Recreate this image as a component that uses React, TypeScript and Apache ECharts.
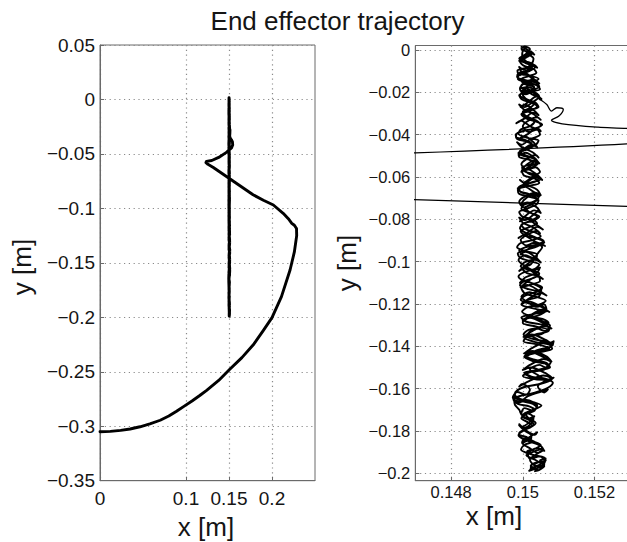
import React, { useEffect, useRef } from 'react';
import * as echarts from 'echarts';

const titleText = 'End effector trajectory';
const xAxisName = 'x [m]';
const yAxisName = 'y [m]';

const leftXTicks = [0, 0.1, 0.15, 0.2];
const rightXTicks = [0.148, 0.15, 0.152];
const rightYTicks = [0, -0.02, -0.04, -0.06, -0.08, -0.1, -0.12, -0.14, -0.16, -0.18, -0.2];

// approach from the start pose to the vertical segment
const approachPath: [number, number][] = [
  [0, -0.305], [0.012, -0.3047], [0.024, -0.3038], [0.035, -0.3025], [0.0465, -0.3005], [0.058, -0.2978],
  [0.07, -0.2945], [0.08, -0.2906], [0.089, -0.2862], [0.098, -0.2815], [0.107, -0.2768], [0.116, -0.2718],
  [0.124, -0.267], [0.138, -0.258], [0.1506, -0.248], [0.165, -0.237], [0.178, -0.2255], [0.19, -0.212],
  [0.2, -0.2003], [0.211, -0.181], [0.221, -0.1566], [0.226, -0.14], [0.2287, -0.125], [0.2285, -0.1185],
  [0.226, -0.1155], [0.223, -0.1137], [0.219, -0.1095], [0.213, -0.1045], [0.2016, -0.0969], [0.19, -0.0925],
  [0.178, -0.0875], [0.1318, -0.0624], [0.1255, -0.0595], [0.1232, -0.058], [0.1238, -0.0568], [0.13, -0.056],
  [0.138, -0.0532], [0.147, -0.0486], [0.1529, -0.0444], [0.1543, -0.0418], [0.154, -0.039], [0.1529, -0.0371],
  [0.1521, -0.0365], [0.1511, -0.0349], [0.1508, -0.0332], [0.151, -0.0313], [0.15113, -0.0281], [0.15095, -0.0273],
  [0.1508, -0.0289], [0.15067, -0.0258], [0.15048, -0.0234],
];

const passUp1: [number, number][] = [
  [0.15041, -0.0221], [0.15022, -0.0205], [0.15035, -0.0188], [0.15012, -0.0176], [0.14994, -0.0181], [0.14998, -0.0163],
  [0.15028, -0.015], [0.15044, -0.0137], [0.15019, -0.0121], [0.14988, -0.0112], [0.14985, -0.0098], [0.1501, -0.0085],
  [0.15031, -0.0072], [0.15016, -0.0058], [0.14995, -0.0049], [0.15003, -0.0034], [0.15022, -0.0022], [0.1501, -0.0008],
  [0.14996, 0.0004], [0.15005, 0.0016], [0.15014, 0.0012],
];

const passDown1: [number, number][] = [
  [0.1502, 0.0005], [0.15008, -0.002], [0.1499, -0.0041], [0.15006, -0.006], [0.15027, -0.0078], [0.15012, -0.0097],
  [0.14988, -0.011], [0.14984, -0.0128], [0.15005, -0.0142], [0.15036, -0.0155], [0.15046, -0.0174], [0.15022, -0.019],
  [0.15001, -0.0198], [0.14992, -0.0215], [0.15014, -0.0237], [0.1503, -0.0258], [0.15018, -0.0276], [0.15, -0.0293],
  [0.15012, -0.0315], [0.15038, -0.0334], [0.1505, -0.0356], [0.15033, -0.0372], [0.15008, -0.038], [0.14985, -0.0392],
  [0.14981, -0.041], [0.15002, -0.0423], [0.15024, -0.0441], [0.15016, -0.0462], [0.14992, -0.0478], [0.14996, -0.0497],
  [0.15028, -0.0511], [0.1504, -0.053], [0.15021, -0.0548], [0.15006, -0.0567], [0.15018, -0.0586], [0.15044, -0.0603],
  [0.15036, -0.0621], [0.15003, -0.0636], [0.14988, -0.0651], [0.14995, -0.0672], [0.15026, -0.0688], [0.15041, -0.0705],
  [0.15025, -0.0727], [0.15008, -0.0745], [0.1502, -0.0768], [0.15046, -0.0787], [0.1503, -0.0806], [0.15002, -0.082],
  [0.14992, -0.0842], [0.1501, -0.0866], [0.15035, -0.0885], [0.15058, -0.0901], [0.15042, -0.0918], [0.15012, -0.093],
  [0.1499, -0.0948], [0.15004, -0.0972], [0.1503, -0.0991], [0.15022, -0.1013], [0.14998, -0.1031], [0.15012, -0.1054],
  [0.15044, -0.107], [0.15048, -0.1092], [0.1502, -0.111], [0.14996, -0.1126], [0.15006, -0.115], [0.1504, -0.1168],
  [0.15064, -0.1185], [0.15045, -0.1203], [0.15014, -0.1215], [0.14998, -0.1236], [0.1502, -0.1258], [0.15055, -0.1271],
  [0.15072, -0.129], [0.1505, -0.131], [0.15016, -0.1322], [0.15002, -0.1344], [0.15028, -0.1365], [0.15066, -0.1379],
  [0.1508, -0.1398], [0.15058, -0.1417], [0.1502, -0.1428], [0.15004, -0.145], [0.15032, -0.1472], [0.1507, -0.1488],
  [0.1506, -0.151], [0.15024, -0.1521], [0.15, -0.154], [0.15036, -0.1556], [0.15078, -0.156], [0.15048, -0.1578],
  [0.1501, -0.159], [0.14985, -0.1607], [0.14978, -0.1628], [0.14994, -0.165], [0.1503, -0.1664], [0.15052, -0.168],
  [0.1503, -0.17], [0.15008, -0.1718], [0.15016, -0.174], [0.15036, -0.1762], [0.15022, -0.1782], [0.14998, -0.18],
  [0.14988, -0.1822], [0.1501, -0.1845], [0.1504, -0.1862], [0.15054, -0.188], [0.1503, -0.1898], [0.1501, -0.1915],
  [0.15034, -0.1936], [0.1505, -0.1955], [0.1503, -0.1972], [0.15018, -0.1988],
];

const passUp2: [number, number][] = [
  [0.15042, -0.1975], [0.1506, -0.1958], [0.15048, -0.194], [0.15064, -0.193], [0.1504, -0.1918], [0.15012, -0.1905],
  [0.14995, -0.1888], [0.15004, -0.1866], [0.15028, -0.185], [0.15014, -0.1832], [0.1499, -0.1815], [0.15006, -0.1795],
  [0.15026, -0.1776], [0.15012, -0.1757], [0.14996, -0.174], [0.1501, -0.172], [0.15034, -0.1702], [0.15018, -0.1684],
  [0.14986, -0.1672], [0.14974, -0.1652], [0.1499, -0.1636], [0.1502, -0.1625], [0.15046, -0.1612], [0.1507, -0.1596],
  [0.15084, -0.1572], [0.1506, -0.1552], [0.1503, -0.1546], [0.1501, -0.153], [0.15044, -0.1512], [0.15076, -0.15],
  [0.15066, -0.1478], [0.1503, -0.1462], [0.15008, -0.1446], [0.1504, -0.143], [0.15082, -0.1412], [0.15074, -0.1392],
  [0.15036, -0.138], [0.15006, -0.1362], [0.15034, -0.1345], [0.1507, -0.133], [0.15076, -0.131], [0.15046, -0.1295],
  [0.1501, -0.1284], [0.14996, -0.1264], [0.1503, -0.1248], [0.15068, -0.1232], [0.15054, -0.1212], [0.15018, -0.1198],
  [0.14994, -0.118], [0.15008, -0.116], [0.1504, -0.1142], [0.15054, -0.1122], [0.1503, -0.1104], [0.15002, -0.109],
  [0.14988, -0.107], [0.15004, -0.105], [0.15034, -0.1034], [0.15046, -0.1014], [0.1502, -0.0998], [0.14992, -0.0982],
  [0.14986, -0.0962], [0.15012, -0.0944], [0.1504, -0.0928], [0.1506, -0.0908], [0.15038, -0.089], [0.15006, -0.0876],
  [0.14994, -0.0856], [0.15016, -0.0838], [0.1504, -0.082], [0.15026, -0.08], [0.14998, -0.0786], [0.1499, -0.0766],
  [0.15014, -0.0748], [0.15038, -0.073], [0.15044, -0.071], [0.15018, -0.0694], [0.1499, -0.068], [0.14986, -0.066],
  [0.15012, -0.0644], [0.15046, -0.0628], [0.15034, -0.0608], [0.15004, -0.0594], [0.14998, -0.0574], [0.15024, -0.0556],
  [0.15042, -0.0538], [0.1502, -0.052], [0.1499, -0.0506], [0.14988, -0.0486], [0.15014, -0.047], [0.1503, -0.0452],
  [0.15012, -0.0434], [0.14984, -0.042], [0.1498, -0.04], [0.15, -0.0384], [0.15036, -0.037], [0.15054, -0.0352],
  [0.15032, -0.0336], [0.15008, -0.0322], [0.14998, -0.0302], [0.15024, -0.0286], [0.1504, -0.0266], [0.15022, -0.0248],
  [0.14998, -0.0234], [0.1499, -0.0214], [0.15016, -0.0198], [0.15048, -0.0186], [0.15038, -0.0166], [0.15006, -0.0152],
  [0.14986, -0.0136], [0.1499, -0.0116], [0.15018, -0.01], [0.15034, -0.0082], [0.15014, -0.0064], [0.14994, -0.005],
  [0.15004, -0.003], [0.1502, -0.0012], [0.15008, 0.0006], [0.14996, 0.0014],
];

const passDown2: [number, number][] = [
  [0.15012, 0.0002], [0.15026, -0.0016], [0.1501, -0.0036], [0.14992, -0.0054], [0.15002, -0.0074], [0.1503, -0.009],
  [0.15038, -0.0108], [0.15016, -0.0124], [0.14994, -0.014], [0.15004, -0.016], [0.15032, -0.0176], [0.15026, -0.0196],
  [0.15, -0.0212], [0.1501, -0.0232], [0.15036, -0.025], [0.15044, -0.027], [0.1502, -0.0284], [0.14996, -0.0304],
  [0.1501, -0.0324], [0.15032, -0.034], [0.1502, -0.036], [0.14994, -0.0376], [0.14988, -0.0396], [0.1501, -0.0414],
  [0.15044, -0.0428], [0.15036, -0.0448], [0.15006, -0.0464], [0.14994, -0.0484], [0.15014, -0.0502], [0.15034, -0.052],
  [0.15022, -0.054], [0.14998, -0.0556], [0.15008, -0.0576], [0.1504, -0.059], [0.1505, -0.061], [0.15024, -0.0626],
  [0.14996, -0.0644], [0.1499, -0.0664], [0.15016, -0.068], [0.15044, -0.0696], [0.1503, -0.0716], [0.15002, -0.0732],
  [0.14996, -0.0752], [0.15022, -0.077], [0.1504, -0.0788], [0.1502, -0.0808], [0.14996, -0.0826], [0.15006, -0.0846],
  [0.15034, -0.0862], [0.1505, -0.088], [0.15028, -0.0898], [0.14994, -0.0912], [0.14984, -0.0932], [0.15006, -0.095],
  [0.1504, -0.0966], [0.15036, -0.0986], [0.15006, -0.1002], [0.14994, -0.1022], [0.15018, -0.104], [0.15046, -0.1056],
  [0.15032, -0.1076], [0.15004, -0.1092], [0.14992, -0.1112], [0.15016, -0.113], [0.1505, -0.1146], [0.15044, -0.1166],
  [0.15012, -0.1182], [0.14996, -0.1202], [0.15026, -0.122], [0.15062, -0.1236], [0.1504, -0.1256], [0.15004, -0.127],
  [0.15, -0.129], [0.15036, -0.1306], [0.1507, -0.1322], [0.15052, -0.1342], [0.15012, -0.1356], [0.15002, -0.1376],
  [0.15044, -0.1392], [0.15074, -0.141], [0.15046, -0.1428], [0.15008, -0.144], [0.15014, -0.146], [0.15056, -0.1476],
  [0.15072, -0.1496], [0.1504, -0.1512], [0.15004, -0.1526], [0.15024, -0.1546], [0.15066, -0.156], [0.15042, -0.158],
  [0.15, -0.1594], [0.14982, -0.1614], [0.14976, -0.1636], [0.14996, -0.1658], [0.15028, -0.1672], [0.1504, -0.1692],
  [0.15014, -0.171], [0.14998, -0.173], [0.1502, -0.175], [0.1503, -0.177], [0.1501, -0.179], [0.1499, -0.181],
  [0.14996, -0.1832], [0.1503, -0.185], [0.1505, -0.1866], [0.15034, -0.1884], [0.15012, -0.1896], [0.15026, -0.1912],
  [0.1506, -0.1926], [0.15064, -0.194], [0.15036, -0.195], [0.15022, -0.1966], [0.1504, -0.198], [0.15034, -0.199],
];

const passUp3: [number, number][] = [
  [0.15046, -0.1984], [0.1506, -0.1966], [0.15044, -0.1948], [0.1503, -0.1958], [0.1502, -0.1936], [0.15036, -0.1912],
  [0.15056, -0.1892], [0.15042, -0.1904], [0.15018, -0.188], [0.14998, -0.1856], [0.15006, -0.1834], [0.1502, -0.1846],
  [0.15024, -0.1822], [0.15004, -0.1798], [0.1499, -0.1774], [0.15004, -0.1786], [0.15026, -0.176], [0.1503, -0.1736],
  [0.15008, -0.1714], [0.14998, -0.1726], [0.1499, -0.17], [0.14978, -0.1676], [0.14976, -0.1652], [0.14992, -0.1664],
  [0.1501, -0.164], [0.1504, -0.162], [0.1507, -0.1604], [0.1506, -0.1618], [0.15042, -0.159], [0.1506, -0.1566],
  [0.15086, -0.1548], [0.15072, -0.1562], [0.1504, -0.1534], [0.1502, -0.151], [0.15046, -0.1488], [0.15064, -0.15],
  [0.15078, -0.1474], [0.15056, -0.145], [0.15024, -0.143], [0.15014, -0.1444], [0.1504, -0.1418], [0.1508, -0.14],
  [0.15086, -0.1376], [0.15068, -0.1388], [0.15036, -0.1362], [0.15016, -0.1338], [0.1504, -0.1316], [0.15062, -0.1328],
  [0.15076, -0.1302], [0.1505, -0.1278], [0.15018, -0.126], [0.15008, -0.1274], [0.1503, -0.1248], [0.15066, -0.1226],
  [0.1506, -0.1202], [0.1504, -0.1214], [0.15012, -0.119], [0.14996, -0.1166], [0.15018, -0.1144], [0.1504, -0.1156],
  [0.15052, -0.113], [0.1503, -0.1106], [0.15, -0.1088], [0.14992, -0.11], [0.15008, -0.1074], [0.1504, -0.1052],
  [0.15048, -0.1028], [0.1503, -0.104], [0.15002, -0.1016], [0.14988, -0.0992], [0.15006, -0.097], [0.1503, -0.0982],
  [0.15044, -0.0956], [0.15054, -0.0932], [0.1503, -0.0912], [0.1501, -0.0924], [0.14994, -0.0898], [0.15012, -0.0874],
  [0.1504, -0.0854], [0.15048, -0.0866], [0.1503, -0.084], [0.15, -0.0816], [0.1499, -0.0792], [0.15006, -0.0804],
  [0.1503, -0.0778], [0.15044, -0.0754], [0.15024, -0.0732], [0.15004, -0.0744], [0.1499, -0.0718], [0.15004, -0.0694],
  [0.15036, -0.0674], [0.1505, -0.0686], [0.1504, -0.066], [0.1501, -0.0636], [0.14992, -0.0614], [0.15002, -0.0626],
  [0.15026, -0.06], [0.15048, -0.0576], [0.15036, -0.0554], [0.15012, -0.0566], [0.14996, -0.054], [0.1501, -0.0516],
  [0.15036, -0.0496], [0.15044, -0.0508], [0.15026, -0.0482], [0.14996, -0.0458], [0.14984, -0.0436], [0.14996, -0.0448],
  [0.1502, -0.0422], [0.15048, -0.04], [0.1504, -0.0376], [0.15018, -0.0388], [0.15, -0.0362], [0.15012, -0.0338],
  [0.1504, -0.0318], [0.1505, -0.033], [0.1503, -0.0304], [0.15002, -0.028], [0.1499, -0.0258], [0.15004, -0.027],
  [0.1503, -0.0244], [0.15046, -0.022], [0.15028, -0.0198], [0.15008, -0.021], [0.14992, -0.0184], [0.15002, -0.016],
  [0.15028, -0.014], [0.15036, -0.0152], [0.1502, -0.0126], [0.14996, -0.0102], [0.1499, -0.008], [0.15002, -0.0092],
  [0.15024, -0.0066], [0.1503, -0.0042], [0.15012, -0.002], [0.14998, -0.0032], [0.15, -0.0004], [0.1501, 0.0012],
];

const passDown3: [number, number][] = [
  [0.15002, 0.0012], [0.15018, -0.0006], [0.15032, -0.0022], [0.15024, -0.001], [0.15006, -0.003], [0.1499, -0.0052],
  [0.14998, -0.004], [0.15016, -0.0064], [0.1504, -0.0084], [0.1503, -0.007], [0.1501, -0.0098], [0.14992, -0.012],
  [0.15004, -0.0108], [0.15028, -0.0134], [0.15046, -0.0158], [0.15034, -0.0146], [0.15012, -0.0172], [0.14996, -0.0196],
  [0.1501, -0.0184], [0.15036, -0.021], [0.15052, -0.0232], [0.15038, -0.022], [0.15014, -0.0248], [0.14994, -0.027],
  [0.15006, -0.0258], [0.1503, -0.0284], [0.15044, -0.0308], [0.15028, -0.0296], [0.15006, -0.0322], [0.14982, -0.0346],
  [0.14994, -0.0334], [0.1502, -0.036], [0.1505, -0.0384], [0.1504, -0.037], [0.15014, -0.0398], [0.1499, -0.042],
  [0.15004, -0.0408], [0.1503, -0.0436], [0.1504, -0.046], [0.15024, -0.0448], [0.15, -0.0474], [0.1499, -0.0498],
  [0.15008, -0.0486], [0.15034, -0.0512], [0.15046, -0.0536], [0.1503, -0.0524], [0.15004, -0.0552], [0.14996, -0.0576],
  [0.15014, -0.0564], [0.1504, -0.059], [0.15054, -0.0614], [0.15036, -0.0602], [0.15008, -0.063], [0.14986, -0.0654],
  [0.15, -0.0642], [0.15028, -0.0668], [0.15046, -0.0692], [0.1503, -0.068], [0.15004, -0.0708], [0.14994, -0.0732],
  [0.15012, -0.072], [0.1504, -0.0746], [0.1505, -0.077], [0.15032, -0.0758], [0.15006, -0.0786], [0.14992, -0.081],
  [0.1501, -0.0798], [0.15036, -0.0824], [0.15056, -0.0848], [0.1504, -0.0836], [0.15012, -0.0864], [0.14988, -0.0888],
  [0.15002, -0.0876], [0.1503, -0.0902], [0.15062, -0.0926], [0.15046, -0.0914], [0.15014, -0.0942], [0.14994, -0.0966],
  [0.15008, -0.0954], [0.15036, -0.098], [0.1505, -0.1004], [0.15034, -0.0992], [0.15006, -0.102], [0.1499, -0.1044],
  [0.15006, -0.1032], [0.15036, -0.1058], [0.15056, -0.1082], [0.1504, -0.107], [0.1501, -0.1098], [0.14994, -0.1122],
  [0.15012, -0.111], [0.15044, -0.1136], [0.15066, -0.116], [0.1505, -0.1148], [0.15016, -0.1176], [0.14998, -0.12],
  [0.15016, -0.1188], [0.15052, -0.1214], [0.15074, -0.1238], [0.15056, -0.1226], [0.1502, -0.1254], [0.15, -0.1278],
  [0.1502, -0.1266], [0.15058, -0.1292], [0.1508, -0.1316], [0.1506, -0.1304], [0.15022, -0.1332], [0.15002, -0.1356],
  [0.15024, -0.1344], [0.15064, -0.137], [0.15084, -0.1394], [0.15062, -0.1382], [0.15024, -0.141], [0.15004, -0.1434],
  [0.15026, -0.1422], [0.15066, -0.1448], [0.1508, -0.1472], [0.15058, -0.146], [0.1502, -0.1488], [0.15, -0.1512],
  [0.15022, -0.15], [0.15062, -0.1526], [0.15082, -0.155], [0.15058, -0.1538], [0.15016, -0.1566], [0.1499, -0.159],
  [0.14998, -0.1578], [0.1502, -0.1604], [0.1501, -0.1628], [0.14984, -0.1616], [0.14972, -0.1642], [0.14988, -0.1666],
  [0.1501, -0.1654], [0.1504, -0.168], [0.1503, -0.1704], [0.15004, -0.1692], [0.14996, -0.1718], [0.15016, -0.1742],
  [0.15032, -0.173], [0.1502, -0.1756], [0.14998, -0.178], [0.1499, -0.1768], [0.15006, -0.1794], [0.15034, -0.1818],
  [0.1504, -0.1806], [0.15016, -0.1832], [0.15, -0.1856], [0.1502, -0.1844], [0.1505, -0.187], [0.1506, -0.1894],
  [0.1504, -0.1882], [0.15014, -0.1908], [0.1502, -0.1932], [0.15048, -0.192], [0.15062, -0.1946], [0.15044, -0.197],
  [0.15026, -0.1958], [0.15022, -0.1978],
];

const passes: [number, number][] = [
  ...passUp1, ...passDown1, ...passUp2, ...passDown2, ...passUp3, ...passDown3,
];
const trajectory: [number, number][] = [...approachPath, ...passes];
const bandTrace: [number, number][] = [approachPath[approachPath.length - 1], ...passes];

const FONT = '"Liberation Sans", Arial, Helvetica, sans-serif';
const AXIS_COLOR = '#6a6a6a';
const GRID_COLOR = '#8a8a8a';
const TEXT_COLOR = '#151515';

const fmt = (v: number) => {
  const r = Math.round(v * 1e6) / 1e6;
  const s = String(Math.abs(r));
  return r < 0 ? '\u2212' + s : s;
};

const axisCommon = (fontSize: number, margin: number, custom?: number[]) => ({
  type: 'value',
  axisLine: { show: true, onZero: false, lineStyle: { color: AXIS_COLOR, width: 1 } },
  axisTick: { show: true, inside: true, length: 4, lineStyle: { color: AXIS_COLOR }, ...(custom ? { customValues: custom } : {}) },
  axisLabel: {
    fontSize, margin, color: TEXT_COLOR, fontFamily: FONT, formatter: fmt,
    ...(custom ? { customValues: custom } : {}),
  },
  splitLine: { show: true, lineStyle: { type: [1.2, 3.6], color: GRID_COLOR, width: 1.2 } },
});

export default function App() {
  const ref = useRef<HTMLDivElement>(null);
  useEffect(() => {
    if (!ref.current) return;
    const chart = echarts.init(ref.current, undefined, { renderer: 'svg' });
    chart.setOption({
      animation: false,
      backgroundColor: '#ffffff',
      grid: [
        { left: 100, top: 45, width: 215, height: 435.7, show: true, borderColor: AXIS_COLOR, borderWidth: 1, outerBoundsMode: 'none' },
        { left: 415.3, top: 45.5, width: 215, height: 435.2, show: true, borderColor: AXIS_COLOR, borderWidth: 1, outerBoundsMode: 'none' },
      ],
      xAxis: [
        { ...axisCommon(19, 8, leftXTicks), gridIndex: 0, position: 'bottom', min: 0, max: 0.25 },
        { ...axisCommon(16.5, 3, rightXTicks), gridIndex: 1, position: 'bottom', min: 0.147, max: 0.153 },
      ],
      yAxis: [
        { ...axisCommon(19, 5), gridIndex: 0, position: 'left', min: -0.35, max: 0.05, interval: 0.05 },
        { ...axisCommon(16.5, 5, rightYTicks), gridIndex: 1, position: 'left', min: -0.2035, max: 0.0021 },
      ],
      series: [
        {
          type: 'line', xAxisIndex: 0, yAxisIndex: 0, data: trajectory, showSymbol: false, clip: true,
          lineStyle: { color: '#000', width: 2.9, cap: 'round', join: 'round' },
        },
        {
          type: 'line', xAxisIndex: 1, yAxisIndex: 1, data: approachPath, showSymbol: false, clip: true, smooth: 0.3,
          lineStyle: { color: '#000', width: 1.3, cap: 'round', join: 'round' },
        },
        {
          type: 'line', xAxisIndex: 1, yAxisIndex: 1, data: bandTrace, showSymbol: false, clip: true, smooth: 0.3,
          lineStyle: { color: '#000', width: 1.9, cap: 'round', join: 'round' },
        },
      ],
      graphic: [
        { type: 'text', x: 337.5, y: 20.5, style: { text: titleText, fontSize: 26, fontFamily: FONT, fill: TEXT_COLOR, align: 'center', verticalAlign: 'middle' } },
        { type: 'text', x: 206, y: 526.5, style: { text: xAxisName, fontSize: 26, fontFamily: FONT, fill: TEXT_COLOR, align: 'center', verticalAlign: 'middle' } },
        { type: 'text', x: 494, y: 516, style: { text: xAxisName, fontSize: 26, fontFamily: FONT, fill: TEXT_COLOR, align: 'center', verticalAlign: 'middle' } },
        { type: 'text', x: 22, y: 267, rotation: Math.PI / 2, style: { text: yAxisName, fontSize: 26, fontFamily: FONT, fill: TEXT_COLOR, align: 'center', verticalAlign: 'middle' } },
        { type: 'text', x: 347, y: 263, rotation: Math.PI / 2, style: { text: yAxisName, fontSize: 26, fontFamily: FONT, fill: TEXT_COLOR, align: 'center', verticalAlign: 'middle' } },
      ],
    });
    return () => chart.dispose();
  }, []);
  return (
    <div
      ref={ref}
      style={{ position: 'absolute', left: 0, top: 0, width: 627, height: 542, background: '#fff' }}
    />
  );
}
